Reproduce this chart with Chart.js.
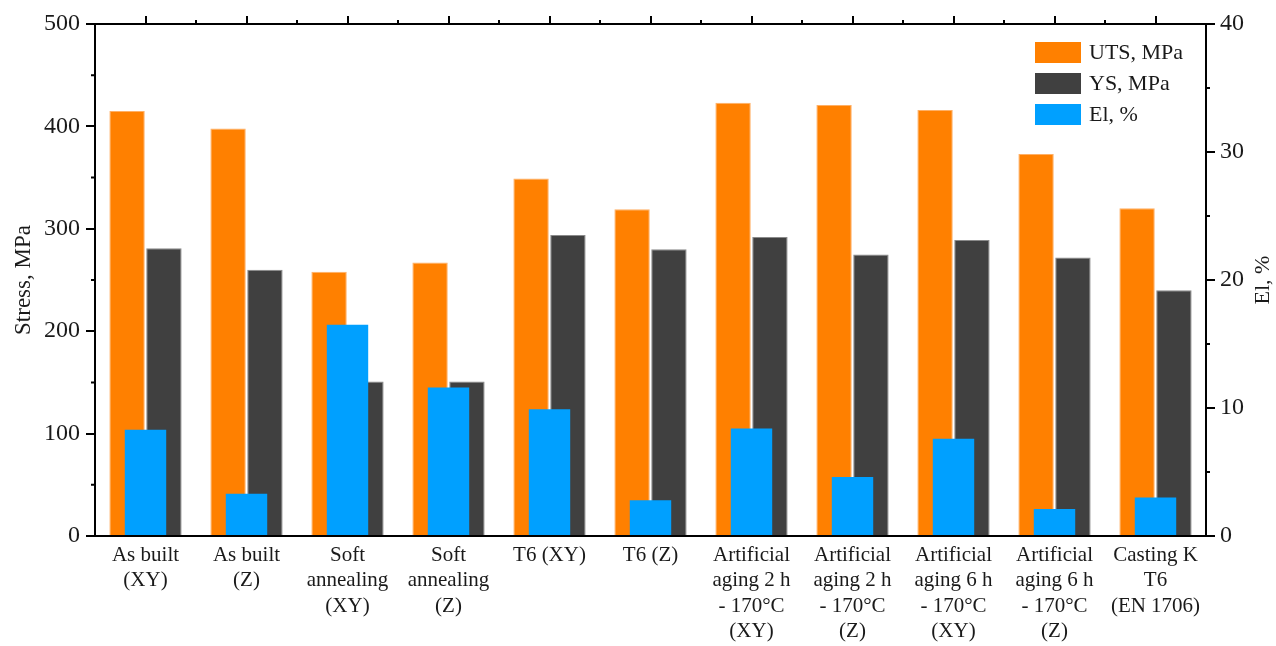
<!DOCTYPE html>
<html>
<head>
<meta charset="utf-8">
<script src="https://cdn.jsdelivr.net/npm/chart.js@4/dist/chart.umd.min.js"></script>
<style>
  html, body { margin: 0; padding: 0; background: #fff; }
  #wrap { width: 1276px; height: 646px; }
</style>
</head>
<body>
<div id="wrap"><canvas id="chart"></canvas></div>
<script>
const categories = [
  ['As built', '(XY)'], ['As built', '(Z)'],
  ['Soft', 'annealing', '(XY)'], ['Soft', 'annealing', '(Z)'],
  ['T6 (XY)'], ['T6 (Z)'],
  ['Artificial', 'aging 2 h', '- 170°C', '(XY)'], ['Artificial', 'aging 2 h', '- 170°C', '(Z)'],
  ['Artificial', 'aging 6 h', '- 170°C', '(XY)'], ['Artificial', 'aging 6 h', '- 170°C', '(Z)'],
  ['Casting K', 'T6', '(EN 1706)']
]
const uts = [415, 398, 258, 267, 349, 319, 423, 421, 416, 373, 320]
const ys = [281, 260, 151, 151, 294, 280, 292, 275, 289, 272, 240]
const el = [8.3, 3.3, 16.5, 11.6, 9.9, 2.8, 8.4, 4.6, 7.6, 2.1, 3.0]
const stressMinor = [50, 150, 250, 350, 450]
const elMinor = [5, 15, 25, 35]

const serif = 'Liberation Serif'
const ink = '#1a1a1a'

const orange = '#ff8000'
const dark = '#404040'
const blue = '#00a0ff'

// minor ticks, right title and legend drawn with the scales
const extras = {
  id: 'extras',
  afterDraw(chart) {
    const ctx = chart.ctx
    const ca = chart.chartArea
    const y = chart.scales.y, y2 = chart.scales.y2, top = chart.scales.xTop
    ctx.save()
    ctx.strokeStyle = '#000'
    ctx.lineWidth = 2
    ctx.beginPath()
    stressMinor.forEach(v => {
      const p = y.getPixelForValue(v)
      ctx.moveTo(ca.left - 4, p); ctx.lineTo(ca.left, p)
    })
    elMinor.forEach(v => {
      const p = y2.getPixelForValue(v)
      ctx.moveTo(ca.right, p); ctx.lineTo(ca.right + 4, p)
    })
    for (let i = 0; i < categories.length - 1; i++) {
      const p = (top.getPixelForTick(i) + top.getPixelForTick(i + 1)) / 2
      ctx.moveTo(p, ca.top); ctx.lineTo(p, ca.top - 4)
    }
    ctx.stroke()

    // right axis title, reading bottom to top
    ctx.fillStyle = ink
    ctx.font = '22px "' + serif + '"'
    ctx.textAlign = 'center'
    ctx.textBaseline = 'middle'
    ctx.translate(1263, (ca.top + ca.bottom) / 2)
    ctx.rotate(-Math.PI / 2)
    ctx.fillText('El, %', 0, 0)
    ctx.restore()

    // legend
    ctx.save()
    ctx.font = '22px "' + serif + '"'
    ctx.textBaseline = 'middle'
    ctx.textAlign = 'left'
    chart.data.datasets.forEach((ds, i) => {
      const bx = ca.right - 171, by = ca.top + 18 + i * 31
      ctx.fillStyle = ds.backgroundColor
      ctx.fillRect(bx, by, 46, 21)
      ctx.fillStyle = ink
      ctx.fillText(ds.label, bx + 54, by + 11)
    })
    ctx.restore()
  }
}

const axisFont = { family: serif, size: 24 }

new Chart(document.getElementById('chart'), {
  type: 'bar',
  data: {
    labels: categories,
    datasets: [
      { label: 'UTS, MPa', data: uts, backgroundColor: orange, borderColor: '#ffb066', borderWidth: 1,
        yAxisID: 'y', order: 1, categoryPercentage: 0.73, barPercentage: 0.96 },
      { label: 'YS, MPa', data: ys, backgroundColor: dark, borderColor: '#8a8a8a', borderWidth: 1,
        yAxisID: 'y', order: 1, categoryPercentage: 0.73, barPercentage: 0.96 },
      { label: 'El, %', data: el, backgroundColor: blue, borderWidth: 0, grouped: false,
        yAxisID: 'y2', order: 0, categoryPercentage: 0.41, barPercentage: 1 }
    ]
  },
  options: {
    responsive: true,
    maintainAspectRatio: false,
    animation: false,
    layout: { padding: 0 },
    plugins: { legend: { display: false }, tooltip: { enabled: false } },
    scales: {
      x: {
        position: 'bottom',
        offset: true,
        grid: { display: false, drawTicks: false },
        border: { display: true, color: '#000', width: 2 },
        ticks: { color: ink, font: { family: serif, size: 21 }, padding: 7, maxRotation: 0, autoSkip: false },
        afterFit(s) { s.height = 110 }
      },
      xTop: {
        type: 'category',
        position: 'top',
        offset: true,
        grid: { offset: false, drawOnChartArea: false, drawTicks: true, tickLength: 8, color: '#000', lineWidth: 2 },
        border: { display: true, color: '#000', width: 2 },
        ticks: { display: false },
        afterFit(s) { s.height = 24 }
      },
      y: {
        position: 'left',
        min: 0, max: 500,
        ticks: { stepSize: 100, color: ink, font: axisFont, padding: 6 },
        grid: { drawOnChartArea: false, tickLength: 9, color: '#000', lineWidth: 2 },
        border: { display: true, color: '#000', width: 2 },
        title: { display: true, text: 'Stress, MPa', color: ink, font: { family: serif, size: 23 }, padding: { top: 10, bottom: 0 } },
        afterFit(s) { s.width = 95 }
      },
      y2: {
        position: 'right',
        min: 0, max: 40,
        ticks: { stepSize: 10, color: ink, font: axisFont, padding: 5 },
        grid: { drawOnChartArea: false, tickLength: 9, color: '#000', lineWidth: 2 },
        border: { display: true, color: '#000', width: 2 },
        afterFit(s) { s.width = 70 }
      }
    }
  },
  plugins: [extras]
});
</script>
</body>
</html>
